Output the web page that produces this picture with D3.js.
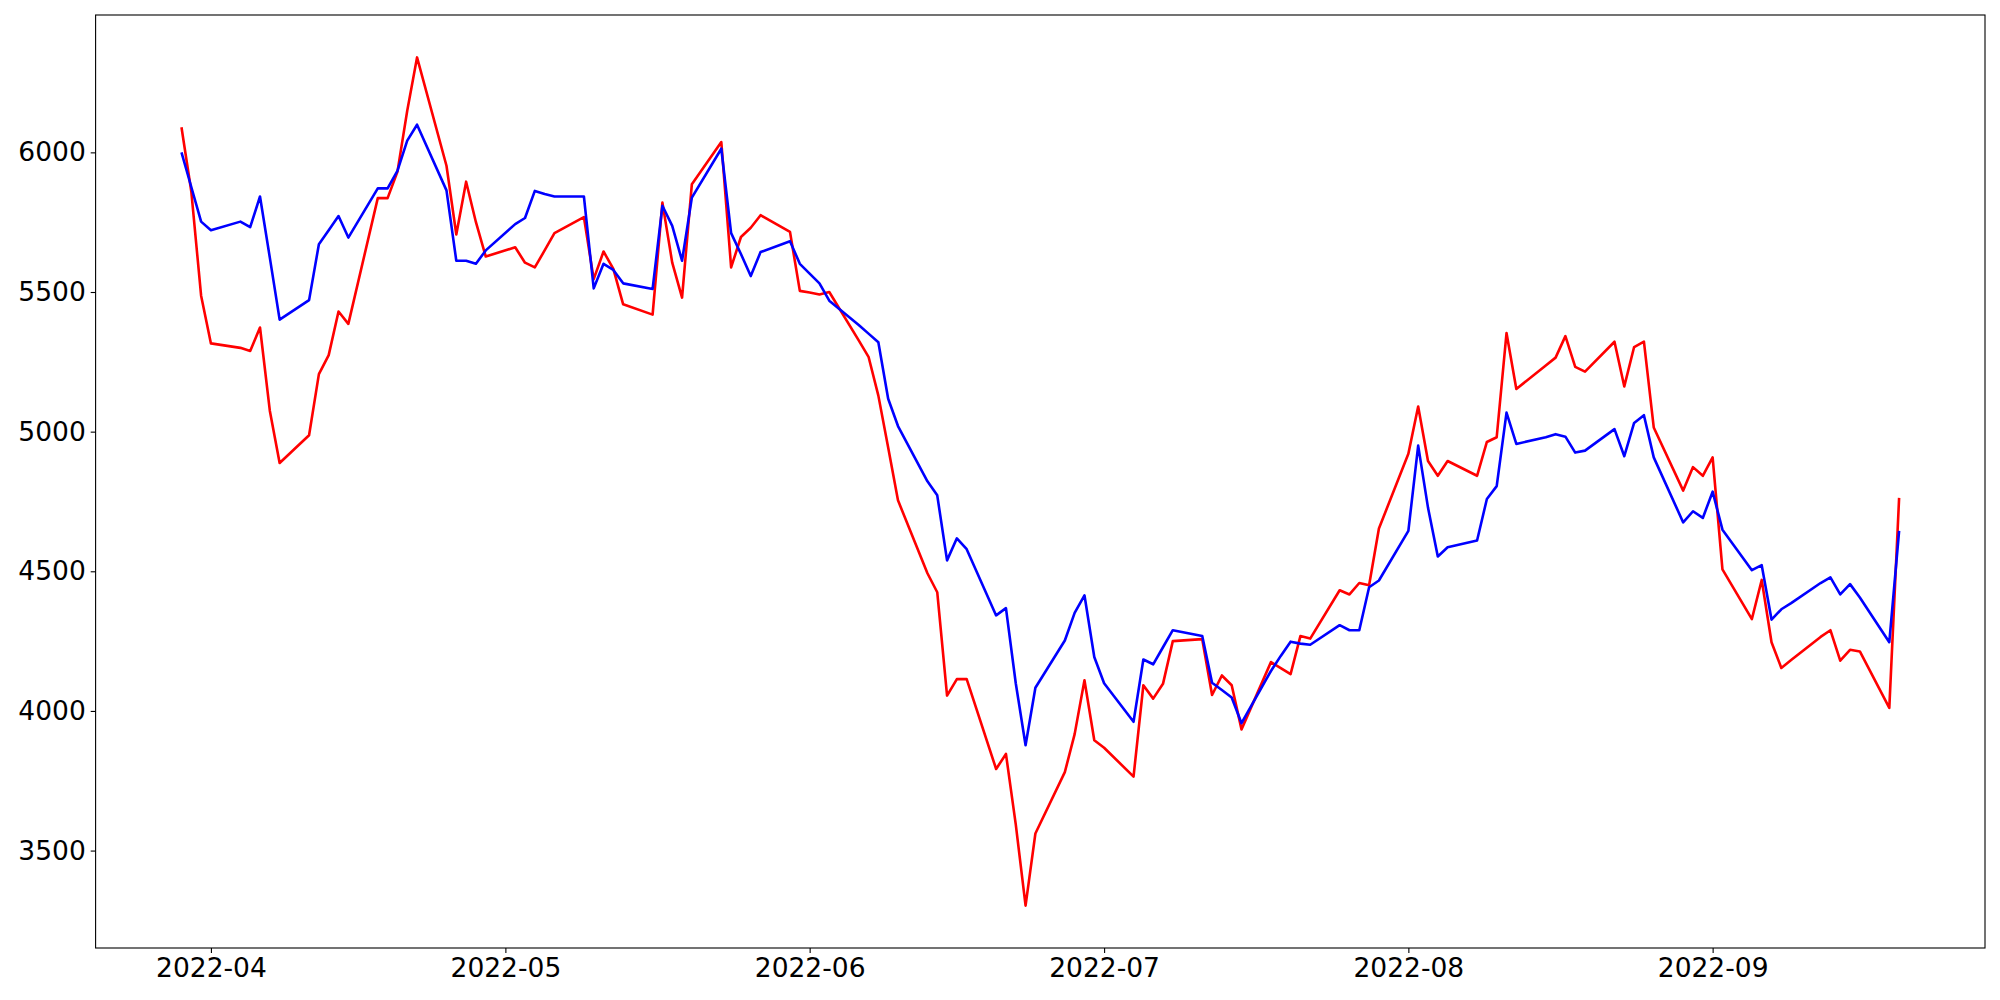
<!DOCTYPE html>
<html>
<head>
<meta charset="utf-8">
<script src="https://cdn.jsdelivr.net/npm/d3@7"></script>
<style>
  html, body { margin: 0; padding: 0; background: #fff; }
  svg { display: block; }
  .tick text { font-family: "DejaVu Sans", sans-serif; }
</style>
</head>
<body>
<svg id="chart" width="2000" height="1000"></svg>
<script>
const dates = [
  "2022-03-29","2022-03-30","2022-03-31",
  "2022-04-01","2022-04-04","2022-04-05","2022-04-06","2022-04-07","2022-04-08",
  "2022-04-11","2022-04-12","2022-04-13","2022-04-14","2022-04-15",
  "2022-04-18","2022-04-19","2022-04-20","2022-04-21","2022-04-22",
  "2022-04-25","2022-04-26","2022-04-27","2022-04-28","2022-04-29",
  "2022-05-02","2022-05-03","2022-05-04","2022-05-05","2022-05-06",
  "2022-05-09","2022-05-10","2022-05-11","2022-05-12","2022-05-13",
  "2022-05-16","2022-05-17","2022-05-18","2022-05-19","2022-05-20",
  "2022-05-23","2022-05-24","2022-05-25","2022-05-26","2022-05-27",
  "2022-05-30","2022-05-31",
  "2022-06-01","2022-06-02","2022-06-03",
  "2022-06-06","2022-06-07","2022-06-08","2022-06-09","2022-06-10",
  "2022-06-13","2022-06-14","2022-06-15","2022-06-16","2022-06-17",
  "2022-06-20","2022-06-21","2022-06-22","2022-06-23","2022-06-24",
  "2022-06-27","2022-06-28","2022-06-29","2022-06-30",
  "2022-07-01",
  "2022-07-04","2022-07-05","2022-07-06","2022-07-07","2022-07-08",
  "2022-07-11","2022-07-12","2022-07-13","2022-07-14","2022-07-15",
  "2022-07-18","2022-07-19","2022-07-20","2022-07-21","2022-07-22",
  "2022-07-25","2022-07-26","2022-07-27","2022-07-28","2022-07-29",
  "2022-08-01","2022-08-02","2022-08-03","2022-08-04","2022-08-05",
  "2022-08-08","2022-08-09","2022-08-10","2022-08-11","2022-08-12",
  "2022-08-15","2022-08-16","2022-08-17","2022-08-18","2022-08-19",
  "2022-08-22","2022-08-23","2022-08-24","2022-08-25","2022-08-26",
  "2022-08-29","2022-08-30","2022-08-31",
  "2022-09-01","2022-09-02",
  "2022-09-05","2022-09-06","2022-09-07","2022-09-08","2022-09-09",
  "2022-09-12","2022-09-13","2022-09-14","2022-09-15","2022-09-16",
  "2022-09-19","2022-09-20"
];

const redValues = [
  6090, 5860, 5487,
  5316, 5300, 5289, 5373, 5075, 4888,
  4987, 5206, 5274, 5430, 5386,
  5836, 5836, 5930, 6149, 6340,
  5952, 5706, 5895, 5750, 5627,
  5660, 5605, 5588, 5649, 5711,
  5768, 5546, 5645, 5583, 5456,
  5419, 5820, 5605, 5480, 5886,
  6037, 5588, 5697, 5730, 5775,
  5715, 5504,
  5498, 5491, 5500,
  5327, 5268, 5129, 4943, 4754,
  4493, 4425, 4055, 4114, 4114,
  3792, 3846, 3594, 3303, 3561,
  3781, 3917, 4110, 3895,
  3868,
  3765, 4092, 4044, 4097, 4250,
  4257, 4057, 4127, 4092, 3934,
  4175, 4153, 4132, 4268, 4259,
  4432, 4417, 4458, 4450, 4653,
  4921, 5090, 4895, 4842, 4895,
  4842, 4963, 4980, 5353, 5153,
  5237, 5265, 5342, 5232, 5215,
  5322, 5162, 5303, 5322, 5015,
  4789, 4873, 4842,
  4908, 4507,
  4329, 4469, 4246, 4154, 4182,
  4265, 4289, 4180, 4219, 4213,
  4011, 4763
];

const blueValues = [
  6000, 5876, 5752,
  5721, 5752, 5732, 5842, 5623, 5401,
  5471, 5671, 5721, 5772, 5695,
  5871, 5871, 5934, 6042, 6099,
  5864, 5612, 5612, 5601, 5649,
  5743, 5765, 5862, 5851, 5842,
  5842, 5513, 5601, 5579, 5531,
  5511, 5809, 5737, 5612, 5838,
  6013, 5711, 5636, 5557, 5643,
  5682, 5601,
  5566, 5531, 5469,
  5382, 5351, 5320, 5118, 5020,
  4822, 4772, 4539, 4618, 4579,
  4342, 4368, 4099, 3877, 4083,
  4252, 4351, 4414, 4193,
  4099,
  3961, 4184, 4167, 4228, 4289,
  4268, 4101, 4075, 4048, 3956,
  4143, 4197, 4248, 4241, 4237,
  4307, 4289, 4289, 4443, 4467,
  4645, 4950, 4728, 4553, 4586,
  4610, 4759, 4805, 5068, 4956,
  4980, 4991, 4982, 4925, 4932,
  5009, 4912, 5031, 5059, 4908,
  4675, 4715, 4691,
  4785, 4649,
  4504, 4522, 4327, 4364, 4386,
  4458, 4478, 4417, 4454, 4406,
  4246, 4645
];

const yTickValues = [3500, 4000, 4500, 5000, 5500, 6000];
const xTickLabels = ["2022-04", "2022-05", "2022-06", "2022-07", "2022-08", "2022-09"];

const parse = d3.utcParse("%Y-%m-%d");
const parsedDates = dates.map(parse);
const xTickDates = xTickLabels.map(d3.utcParse("%Y-%m"));

const svg = d3.select("#chart");
const margin = { left: 95.6, right: 15, top: 15, bottom: 52 };
const W = 2000, H = 1000;
const plotW = W - margin.left - margin.right;
const plotH = H - margin.top - margin.bottom;

// matplotlib-like 5% margins
const [x0, x1] = d3.extent(parsedDates);
const xPad = (x1 - x0) * 0.05;
const x = d3.scaleUtc()
  .domain([new Date(+x0 - xPad), new Date(+x1 + xPad)])
  .range([margin.left, margin.left + plotW]);

const allVals = redValues.concat(blueValues);
const [y0, y1] = d3.extent(allVals);
const yPad = (y1 - y0) * 0.05;
const y = d3.scaleLinear()
  .domain([y0 - yPad, y1 + yPad])
  .range([margin.top + plotH, margin.top]);

const fontSize = 26.5;
const tickLen = 4.9;

// X axis
const xAxis = d3.axisBottom(x)
  .tickValues(xTickDates)
  .tickFormat((d, i) => xTickLabels[i])
  .tickSizeInner(tickLen).tickSizeOuter(0).tickPadding(5.5);
const gx = svg.append("g")
  .attr("transform", `translate(0,${margin.top + plotH})`)
  .call(xAxis);
gx.select(".domain").remove();
gx.selectAll(".tick line").attr("stroke", "#000").attr("stroke-width", 1.1);
gx.selectAll(".tick text").attr("font-size", fontSize).attr("fill", "#000");

// Y axis
const yAxis = d3.axisLeft(y)
  .tickValues(yTickValues)
  .tickFormat(d3.format("d"))
  .tickSizeInner(tickLen).tickSizeOuter(0).tickPadding(4.9);
const gy = svg.append("g")
  .attr("transform", `translate(${margin.left},0)`)
  .call(yAxis);
gy.select(".domain").remove();
gy.selectAll(".tick line").attr("stroke", "#000").attr("stroke-width", 1.1);
gy.selectAll(".tick text").attr("font-size", fontSize).attr("fill", "#000");

// Lines
const clipId = "plotclip";
svg.append("clipPath").attr("id", clipId)
  .append("rect")
  .attr("x", margin.left).attr("y", margin.top)
  .attr("width", plotW).attr("height", plotH);

const line = d3.line()
  .x((d, i) => x(parsedDates[i]))
  .y(d => y(d));

svg.append("path")
  .datum(redValues)
  .attr("fill", "none")
  .attr("stroke", "#ff0000")
  .attr("stroke-width", 2.6)
  .attr("stroke-linejoin", "round")
  .attr("clip-path", `url(#${clipId})`)
  .attr("d", line);

svg.append("path")
  .datum(blueValues)
  .attr("fill", "none")
  .attr("stroke", "#0000ff")
  .attr("stroke-width", 2.6)
  .attr("stroke-linejoin", "round")
  .attr("clip-path", `url(#${clipId})`)
  .attr("d", line);

// Frame (spines)
svg.append("rect")
  .attr("x", margin.left).attr("y", margin.top)
  .attr("width", plotW).attr("height", plotH)
  .attr("fill", "none")
  .attr("stroke", "#000")
  .attr("stroke-width", 1.1);
</script>
</body>
</html>
